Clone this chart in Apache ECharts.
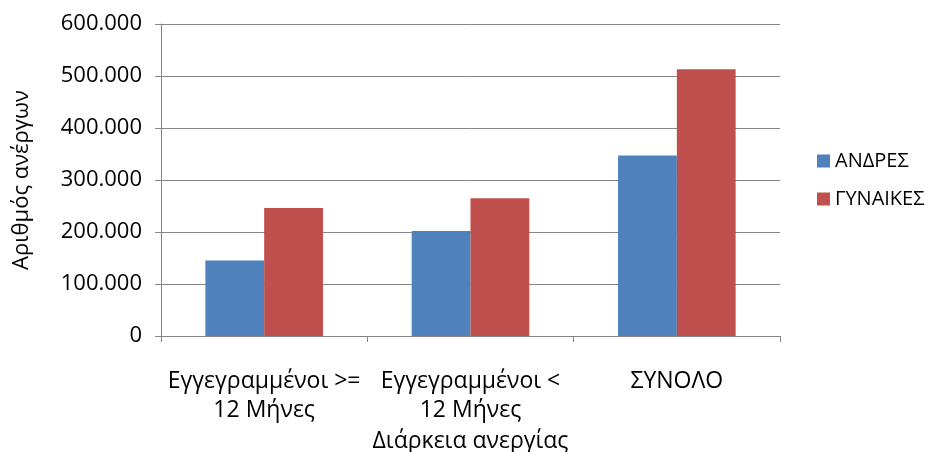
<!DOCTYPE html>
<html>
<head>
<meta charset="utf-8">
<script src="https://cdn.jsdelivr.net/npm/echarts@6/dist/echarts.min.js"></script>
<style>html,body{margin:0;padding:0;background:#fff}#c{width:938px;height:452px}</style>
</head>
<body>
<div id="c"></div>
<script>
const categories = ['Εγγεγραμμένοι >=\n12 Μήνες', 'Εγγεγραμμένοι <\n12 Μήνες', 'ΣΥΝΟΛΟ'];
const seriesNames = ['ΑΝΔΡΕΣ', 'ΓΥΝΑΙΚΕΣ'];
const men = [145000, 202000, 347000];
const women = [246000, 265000, 513000];
const yTicks = [0, 100000, 200000, 300000, 400000, 500000, 600000];

const FONT = '"Open Sans", sans-serif';
const GRID = '#868686';
function fmt(v){ return v === 0 ? '0' : String(v).replace(/\B(?=(\d{3})+(?!\d))/g, '.'); }

const chart = echarts.init(document.getElementById('c'), null, {renderer:'canvas'});
chart.setOption({
  animation: false,
  backgroundColor: '#fff',
  textStyle: {fontFamily: FONT},
  grid: {left: 161, right: 158, top: 24, bottom: 116, containLabel: false, outerBoundsMode: 'none'},
  legend: {
    orient: 'vertical', left: 812, top: 146, itemWidth: 13, itemHeight: 13, itemGap: 18,
    icon: 'rect',
    textStyle: {fontFamily: FONT, fontSize: 20, color: '#000', padding: [0,0,0,0]},
    data: seriesNames
  },
  xAxis: {
    type: 'category', data: categories,
    name: 'Διάρκεια ανεργίας', nameLocation: 'middle', nameGap: 91,
    nameTextStyle: {fontFamily: FONT, fontSize: 23, color: '#000'},
    axisLine: {lineStyle: {color: GRID, width: 1}},
    axisTick: {show: true, length: 6, lineStyle: {color: GRID}, alignWithLabel: false},
    axisLabel: {interval: 0, margin: 31, fontFamily: FONT, fontSize: 23, color: '#000', lineHeight: 29}
  },
  yAxis: {
    type: 'value', min: yTicks[0], max: yTicks[yTicks.length-1], interval: 100000,
    name: 'Αριθμός ανέργων', nameLocation: 'middle', nameGap: 128,
    nameTextStyle: {fontFamily: FONT, fontSize: 22, color: '#000'},
    axisLine: {show: true, lineStyle: {color: GRID, width: 1}},
    axisTick: {show: true, length: 6, lineStyle: {color: GRID}},
    splitLine: {lineStyle: {color: GRID, width: 1}},
    axisLabel: {formatter: fmt, margin: 19, fontFamily: FONT, fontSize: 22, color: '#000'}
  },
  series: [
    {name: seriesNames[0], type: 'bar', data: men, barGap: '0%', barCategoryGap: '43%',
     itemStyle: {color: '#4F81BD'}},
    {name: seriesNames[1], type: 'bar', data: women, barGap: '0%', barCategoryGap: '43%',
     itemStyle: {color: '#C0504D'}}
  ]
});
</script>
</body>
</html>
